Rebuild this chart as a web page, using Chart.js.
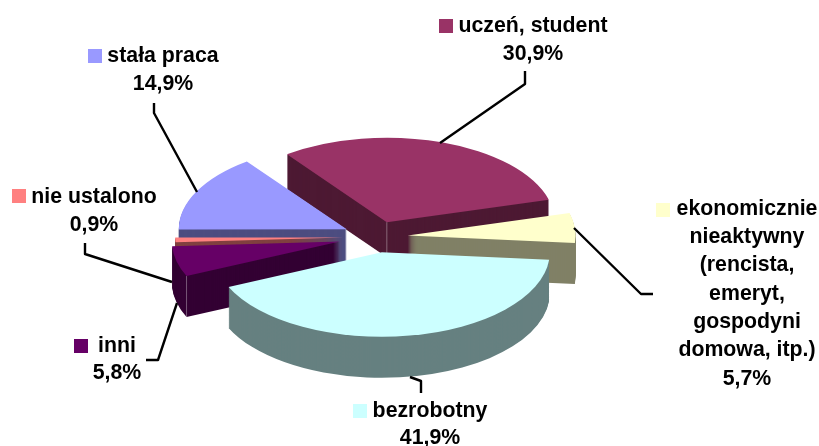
<!DOCTYPE html>
<html lang="pl">
<head>
<meta charset="utf-8">
<script src="https://cdn.jsdelivr.net/npm/chart.js@4/dist/chart.umd.js"></script>
<style>
  html, body { margin: 0; padding: 0; background: #fff; }
  canvas { display: block; }
</style>
</head>
<body>
<canvas id="pieChart" width="819" height="446"></canvas>
<script>
// Dane
const categories = ['uczeń, student', 'ekonomicznie\nnieaktywny\n(rencista,\nemeryt,\ngospodyni\ndomowa, itp.)', 'bezrobotny', 'inni', 'nie ustalono', 'stała praca'];
const shares = [30.9, 5.7, 41.9, 5.8, 0.9, 14.9];

// Kolory
const topColors = ['#993366', '#FFFFCC', '#CCFFFF', '#660066', '#FF8080', '#9999FF'];
const sideColors = ['#4D1933', '#808066', '#668080', '#330033', '#804040', '#4D4D80'];

// Geometria "3D"
const squash = 0.503;
const wallDepth = [35, 41, 41, 41, 41, 41];
const explode = [31, 31, 31, 38, 33.5, 33.5];
const paintOrder = [0, 5, 4, 3, 1, 2];
// jasna pionowa krawędź na ścianie: przy wierzchołku albo na początku łuku
const seams = ['apex', null, null, 'start', null, null];

// Miejsca opisów: [klucz x, klucz y, środek tekstu x, y pierwszej linii, odstęp linii]
const labelBoxes = [
  [439, 19, 533, 26, 28],
  [656, 203, 747, 209, 28.3],
  [353, 404, 430, 411, 27],
  [74, 339, 117, 346, 27],
  [12, 189, 94, 197, 28],
  [88, 49, 163, 56, 28]
];
const leaderLines = [
  [[525, 71], [525, 84], [440, 143]],
  [[574, 228], [641, 294], [653, 294]],
  [[410, 377], [421, 381], [421, 393]],
  [[146, 360], [158, 360], [177, 303]],
  [[85, 243], [85, 254], [172, 282]],
  [[154, 103], [154, 113], [197, 192]]
];

const pie3d = {
  id: 'pie3d',
  beforeDatasetsDraw(chart) {
    const ctx = chart.ctx;
    const arcs = chart.getDatasetMeta(0).data;
    paintOrder.forEach(i => {
      const arc = arcs[i];
      const mid = (arc.startAngle + arc.endAngle) / 2;
      const dx = Math.cos(mid) * explode[i];
      const dy = Math.sin(mid) * explode[i];
      ctx.save();
      ctx.translate(arc.x, arc.y);
      ctx.scale(1, squash);
      ctx.translate(dx, dy);
      // ściany boczne
      ctx.fillStyle = sideColors[i];
      for (let d = wallDepth[i]; d >= 1; d--) {
        ctx.beginPath();
        ctx.moveTo(0, d / squash);
        ctx.arc(0, d / squash, arc.outerRadius, arc.startAngle, arc.endAngle);
        ctx.closePath();
        ctx.fill();
      }
      if (seams[i]) {
        const r = seams[i] === 'start' ? arc.outerRadius : 0;
        const sx = Math.cos(arc.startAngle) * r;
        const sy = Math.sin(arc.startAngle) * r;
        ctx.strokeStyle = 'rgba(255, 255, 255, 0.45)';
        ctx.lineWidth = 1;
        ctx.beginPath();
        ctx.moveTo(sx, sy);
        ctx.lineTo(sx, sy + wallDepth[i] / squash);
        ctx.stroke();
      }
      ctx.translate(-arc.x, -arc.y);
      arc.draw(ctx);
      ctx.restore();
    });
    return false;
  },
  afterDraw(chart) {
    const ctx = chart.ctx;
    ctx.save();
    ctx.strokeStyle = '#000';
    ctx.lineWidth = 2.4;
    ctx.lineJoin = 'round';
    leaderLines.forEach(pts => {
      ctx.beginPath();
      pts.forEach((p, n) => (n ? ctx.lineTo(p[0], p[1]) : ctx.moveTo(p[0], p[1])));
      ctx.stroke();
    });
    ctx.font = 'bold 21.3px "Liberation Sans", Arial, sans-serif';
    ctx.textAlign = 'center';
    ctx.textBaseline = 'middle';
    chart.data.labels.forEach((label, i) => {
      const [kx, ky, tx, ty, gap] = labelBoxes[i];
      ctx.fillStyle = topColors[i];
      ctx.fillRect(kx, ky, 14, 14);
      ctx.fillStyle = '#000';
      const lines = label.split('\n');
      lines.push(shares[i].toFixed(1).replace('.', ',') + '%');
      lines.forEach((line, n) => ctx.fillText(line, tx, ty + n * gap));
    });
    ctx.restore();
  }
};

new Chart(document.getElementById('pieChart'), {
  type: 'pie',
  data: {
    labels: categories,
    datasets: [{
      data: shares,
      backgroundColor: topColors,
      borderWidth: 0
    }]
  },
  options: {
    responsive: false,
    animation: false,
    rotation: -36.5,
    radius: 168,
    layout: { padding: { top: 27.8, right: 65.6 } },
    plugins: {
      legend: { display: false },
      tooltip: { enabled: false }
    }
  },
  plugins: [pie3d]
});
</script>
</body>
</html>
